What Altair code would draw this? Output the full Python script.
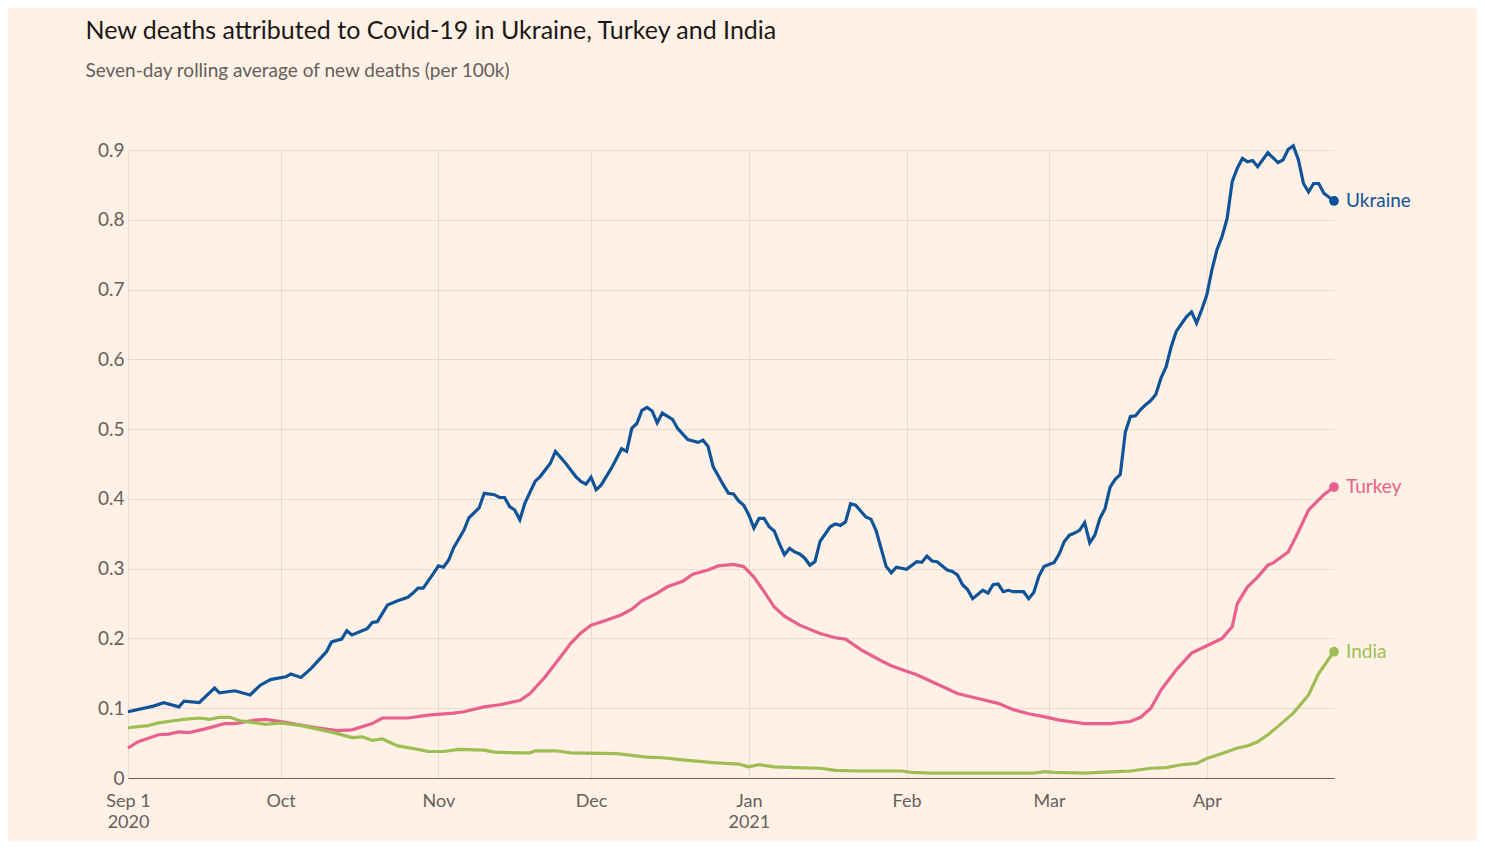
import altair as alt
import pandas as pd

START = "2020-09-01"

# Days since 1 Sep 2020 and seven-day average deaths per 100k
ukraine_day = [0, 5, 7, 10, 11, 14, 17, 18, 21, 24, 26, 28, 31, 32, 34, 36, 39, 40, 42, 43,
               44, 47, 48, 49, 51, 53, 55, 56, 57, 58, 60, 61, 62, 63, 64, 66, 67, 69, 70, 72,
               73, 74, 75, 76, 77, 78, 80, 81, 83, 84, 86, 88, 89, 90, 91, 92, 93, 95, 97, 98,
               99, 100, 101, 102, 103, 104, 105, 107, 108, 110, 112, 113, 114, 115, 117, 118, 119, 120, 121, 122,
               123, 124, 125, 126, 127, 128, 129, 130, 131, 132, 133, 134, 135, 136, 138, 139, 140, 141, 142, 143,
               145, 146, 147, 148, 149, 150, 151, 153, 155, 156, 157, 158, 159, 161, 162, 163, 164, 165, 166, 168,
               169, 170, 171, 172, 173, 174, 176, 177, 178, 179, 180, 182, 183, 184, 185, 186, 187, 188, 189, 190,
               191, 192, 193, 194, 195, 196, 197, 198, 199, 200, 201, 202, 203, 204, 205, 206, 208, 209, 210, 211,
               212, 213, 214, 215, 216, 217, 218, 219, 220, 221, 222, 224, 226, 227, 228, 229, 230, 231, 232, 233,
               234, 235, 237]
ukraine_val = [0.095, 0.103, 0.108, 0.102, 0.110, 0.108, 0.129, 0.122, 0.125, 0.119, 0.133, 0.141, 0.145, 0.149, 0.144, 0.157, 0.181, 0.195, 0.199, 0.211,
               0.205, 0.214, 0.223, 0.224, 0.248, 0.254, 0.259, 0.265, 0.272, 0.272, 0.293, 0.304, 0.302, 0.312, 0.330, 0.355, 0.373, 0.387, 0.408, 0.406,
               0.402, 0.402, 0.389, 0.384, 0.370, 0.394, 0.425, 0.432, 0.451, 0.468, 0.451, 0.432, 0.425, 0.421, 0.431, 0.413, 0.420, 0.444, 0.472, 0.468,
               0.501, 0.508, 0.527, 0.531, 0.526, 0.509, 0.523, 0.514, 0.501, 0.485, 0.481, 0.484, 0.475, 0.446, 0.420, 0.408, 0.407, 0.397, 0.391, 0.377,
               0.358, 0.372, 0.372, 0.360, 0.354, 0.336, 0.320, 0.329, 0.324, 0.321, 0.315, 0.305, 0.310, 0.339, 0.360, 0.364, 0.362, 0.367, 0.393, 0.391,
               0.374, 0.371, 0.355, 0.329, 0.303, 0.294, 0.302, 0.299, 0.310, 0.309, 0.318, 0.311, 0.310, 0.298, 0.296, 0.291, 0.277, 0.270, 0.257, 0.269,
               0.265, 0.277, 0.278, 0.267, 0.269, 0.267, 0.267, 0.257, 0.266, 0.289, 0.303, 0.309, 0.321, 0.339, 0.348, 0.351, 0.355, 0.366, 0.337, 0.348,
               0.372, 0.386, 0.417, 0.428, 0.435, 0.496, 0.518, 0.519, 0.528, 0.535, 0.541, 0.550, 0.573, 0.589, 0.618, 0.640, 0.661, 0.668, 0.652, 0.671,
               0.692, 0.728, 0.757, 0.776, 0.802, 0.855, 0.874, 0.888, 0.883, 0.885, 0.876, 0.896, 0.882, 0.886, 0.901, 0.906, 0.886, 0.852, 0.840, 0.852,
               0.852, 0.838, 0.827]

turkey_day = [0, 2, 6, 8, 10, 12, 15, 17, 19, 21, 25, 27, 30, 34, 38, 41, 44, 48, 50, 55,
              59, 64, 66, 70, 73, 77, 79, 82, 84, 86, 87, 89, 91, 94, 97, 99, 101, 104, 106, 109,
              111, 114, 116, 119, 121, 123, 125, 127, 129, 132, 136, 139, 141, 144, 148, 150, 153, 155, 158, 163,
              167, 171, 174, 177, 180, 183, 188, 193, 197, 199, 201, 203, 206, 209, 211, 215, 217, 218, 220, 222,
              224, 225, 228, 230, 232, 235, 237]
turkey_val = [0.043, 0.052, 0.062, 0.063, 0.066, 0.065, 0.070, 0.074, 0.078, 0.078, 0.083, 0.084, 0.081, 0.076, 0.071, 0.068, 0.069, 0.078, 0.086, 0.086,
              0.090, 0.093, 0.095, 0.102, 0.105, 0.111, 0.121, 0.145, 0.164, 0.183, 0.193, 0.208, 0.219, 0.226, 0.234, 0.242, 0.254, 0.265, 0.274, 0.282,
              0.292, 0.298, 0.304, 0.306, 0.303, 0.288, 0.267, 0.245, 0.232, 0.219, 0.207, 0.201, 0.199, 0.184, 0.168, 0.161, 0.153, 0.148, 0.138, 0.121,
              0.114, 0.107, 0.098, 0.092, 0.088, 0.083, 0.078, 0.078, 0.081, 0.087, 0.100, 0.126, 0.155, 0.179, 0.186, 0.200, 0.217, 0.250, 0.274, 0.288,
              0.305, 0.308, 0.324, 0.353, 0.384, 0.406, 0.417]

india_day = [0, 4, 6, 9, 11, 14, 16, 18, 20, 22, 24, 27, 30, 34, 38, 41, 44, 46, 48, 50,
             53, 57, 59, 62, 65, 70, 72, 77, 79, 80, 84, 87, 96, 102, 105, 109, 115, 120, 122, 124,
             127, 131, 136, 139, 144, 152, 154, 158, 178, 180, 182, 188, 191, 194, 197, 201, 204, 207, 210, 212,
             215, 218, 220, 222, 224, 226, 229, 232, 234, 237]
india_val = [0.072, 0.075, 0.079, 0.082, 0.084, 0.086, 0.084, 0.087, 0.087, 0.082, 0.080, 0.077, 0.079, 0.075, 0.069, 0.064, 0.058, 0.059, 0.054, 0.056,
             0.046, 0.041, 0.038, 0.038, 0.041, 0.040, 0.037, 0.036, 0.036, 0.039, 0.039, 0.036, 0.035, 0.030, 0.029, 0.026, 0.022, 0.020, 0.016, 0.019,
             0.016, 0.015, 0.014, 0.011, 0.010, 0.010, 0.008, 0.007, 0.007, 0.009, 0.008, 0.007, 0.008, 0.009, 0.010, 0.014, 0.015, 0.019, 0.021, 0.028,
             0.035, 0.043, 0.046, 0.052, 0.062, 0.074, 0.093, 0.119, 0.150, 0.181]

countries = ["Ukraine", "Turkey", "India"]
colours = ["#0f5499", "#e8608d", "#9dbe52"]
draw_order = ["Turkey", "India", "Ukraine"]


def frame(name, days, vals):
    d = pd.DataFrame({"day": days, "value": vals})
    d["date"] = (pd.Timestamp(START) + pd.to_timedelta(d["day"], unit="D")).dt.strftime("%Y-%m-%d")
    d["country"] = name
    return d


df = pd.concat([frame("Ukraine", ukraine_day, ukraine_val),
                frame("Turkey", turkey_day, turkey_val),
                frame("India", india_day, india_val)], ignore_index=True)
last = df.sort_values("day").groupby("country").tail(1)

FONT = "Lato"
GREY = "#66605c"

month_ticks = [alt.DateTime(year=2020, month=m, date=1, utc=True) for m in (9, 10, 11, 12)] + \
              [alt.DateTime(year=2021, month=m, date=1, utc=True) for m in (1, 2, 3, 4)]

x = alt.X("date:T",
          scale=alt.Scale(type="utc",
                          domain=[alt.DateTime(year=2020, month=9, date=1, utc=True),
                                  alt.DateTime(year=2021, month=4, date=26, utc=True)]),
          axis=alt.Axis(values=month_ticks,
                        labelExpr="utcFormat(datum.value, '%m') == '09' ? ['Sep 1', '2020'] : "
                                  "utcFormat(datum.value, '%m') == '01' ? ['Jan', '2021'] : "
                                  "utcFormat(datum.value, '%b')",
                        grid=True, ticks=False, domain=True, domainColor=GREY,
                        labelFlush=False, labelPadding=14, labelLineHeight=21, labelFontSize=18,
                        labelColor=GREY, labelFont=FONT),
          title=None)
y = alt.Y("value:Q",
          scale=alt.Scale(domain=[0, 0.9], nice=False),
          axis=alt.Axis(values=[i / 10 for i in range(10)], format="~g", grid=True,
                        ticks=False, domain=False, labelPadding=4, labelFontSize=19,
                        labelColor=GREY, labelFont=FONT),
          title=None)
color = alt.Color("country:N", scale=alt.Scale(domain=countries, range=colours), legend=None)

line_layers = [
    alt.Chart(df).transform_filter(alt.datum.country == c)
    .mark_line(strokeWidth=3.2).encode(x=x, y=y, color=color)
    for c in draw_order
]
dots = alt.Chart(last).mark_circle(size=95, opacity=1).encode(x=x, y=y, color=color)
labels = alt.Chart(last).mark_text(align="left", baseline="middle", dx=12, fontSize=19, font=FONT).encode(
    x=x, y=y, color=color, text="country:N")

chart = alt.layer(*line_layers, dots, labels).properties(
    width=1206, height=628,
    autosize=alt.AutoSizeParams(type="none"),
    padding={"left": 120, "top": 142, "right": 143, "bottom": 63},
    background="#fff1e5",
    title=alt.TitleParams(
        text="New deaths attributed to Covid-19 in Ukraine, Turkey and India",
        subtitle="Seven-day rolling average of new deaths (per 100k)",
        anchor="start", dx=-12, offset=58, font=FONT, fontSize=25, fontWeight="normal",
        color="#1a1817", subtitleFont=FONT, subtitleFontSize=19, subtitleColor=GREY,
        subtitlePadding=18),
).configure_view(stroke=None).configure_axis(gridColor="#e6dbd0", gridWidth=1)

chart.save("out.html", embed_options={"renderer": "svg", "actions": False})
